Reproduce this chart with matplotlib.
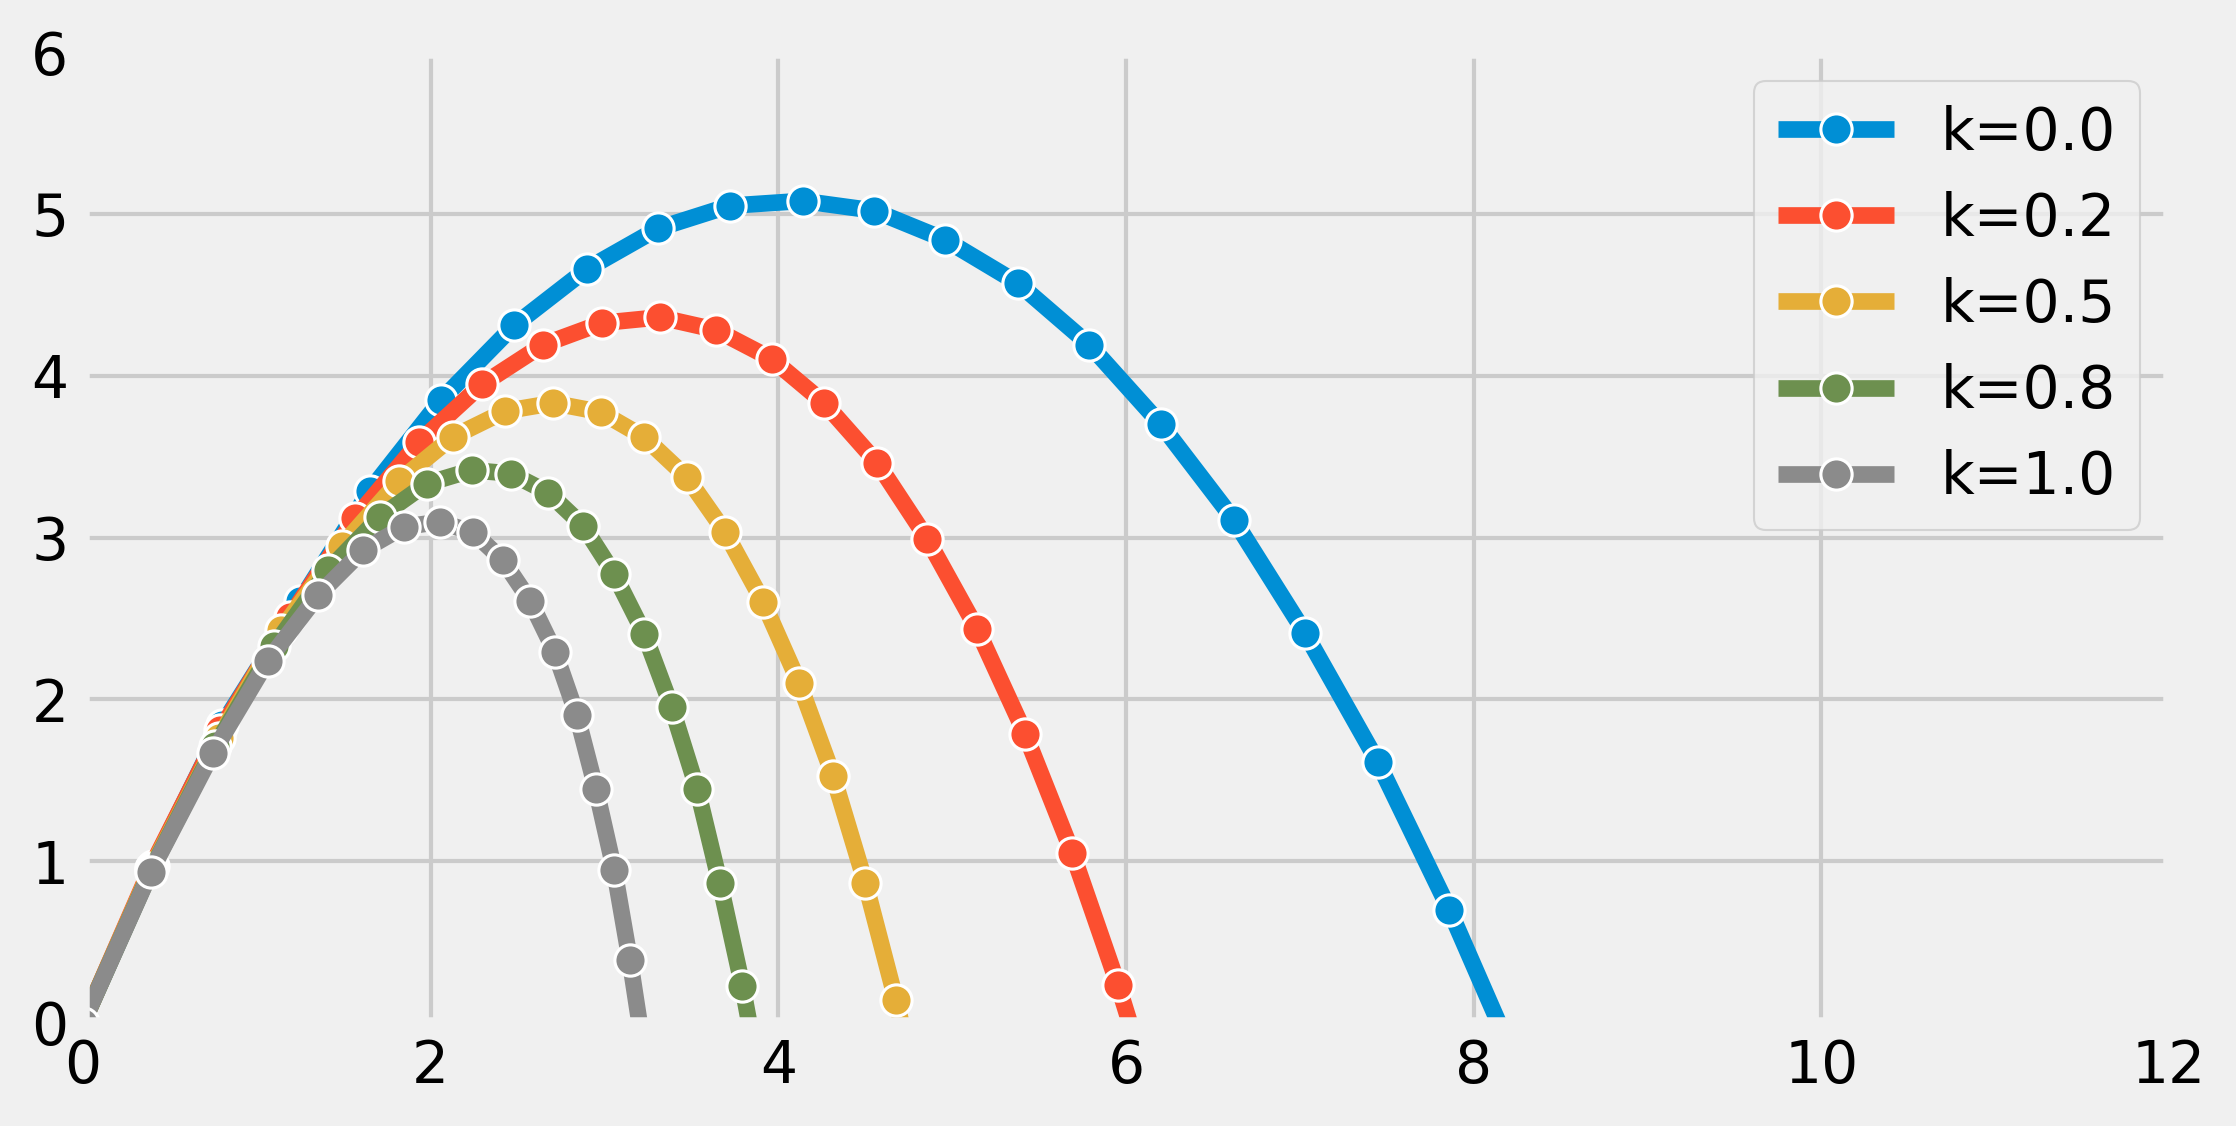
import matplotlib
matplotlib.use('Agg')
import matplotlib.pyplot as plt

# trajectories, one list per drag coefficient
labels = ['k=0.0', 'k=0.2', 'k=0.5', 'k=0.8', 'k=1.0']

x_k00 = [0, 0.40, 0.80, 1.25, 1.65, 2.06, 2.48, 2.90, 3.31, 3.72, 4.14,
         4.55, 4.96, 5.38, 5.79, 6.20, 6.62, 7.03, 7.45, 7.86, 8.27]
y_k00 = [0, 0.97, 1.84, 2.61, 3.29, 3.85, 4.31, 4.66, 4.91, 5.05, 5.08,
         5.02, 4.84, 4.57, 4.19, 3.70, 3.11, 2.41, 1.61, 0.70, -0.31]

x_k02 = [0, 0.39, 0.79, 1.19, 1.565, 1.933, 2.295, 2.648, 2.987, 3.319,
         3.641, 3.961, 4.264, 4.569, 4.857, 5.144, 5.420, 5.691, 5.955, 6.215]
y_k02 = [0, 0.96, 1.81, 2.51, 3.118, 3.590, 3.946, 4.192, 4.326, 4.361,
         4.283, 4.104, 3.831, 3.461, 2.990, 2.433, 1.786, 1.052, 0.232, -0.67]

x_k05 = [0, 0.39, 0.78, 1.14, 1.488, 1.818, 2.126, 2.429, 2.705, 2.978,
         3.227, 3.472, 3.693, 3.913, 4.120, 4.316, 4.500, 4.676, 4.85]
y_k05 = [0, 0.95, 1.76, 2.43, 2.949, 3.350, 3.621, 3.781, 3.831, 3.775,
         3.621, 3.374, 3.035, 2.601, 2.100, 1.525, 0.867, 0.142, -0.64]

x_k08 = [0, 0.39, 0.76, 1.10, 1.411, 1.708, 1.977, 2.236, 2.462, 2.675,
         2.878, 3.056, 3.229, 3.386, 3.534, 3.664, 3.793, 3.91]
y_k08 = [0, 0.94, 1.71, 2.33, 2.799, 3.128, 3.333, 3.416, 3.395, 3.278,
         3.072, 2.773, 2.404, 1.952, 1.443, 0.863, 0.230, -0.45]

x_k10 = [0, 0.389, 0.746, 1.062, 1.354, 1.612, 1.846, 2.053, 2.245, 2.414,
         2.571, 2.715, 2.840, 2.950, 3.056, 3.146, 3.23]
y_k10 = [0, 0.933, 1.669, 2.238, 2.645, 2.922, 3.066, 3.097, 3.031, 2.861,
         2.61, 2.292, 1.905, 1.449, 0.945, 0.388, -0.20]

xs = [x_k00, x_k02, x_k05, x_k08, x_k10]
ys = [y_k00, y_k02, y_k05, y_k08, y_k10]

plt.style.use('fivethirtyeight')
plt.rcParams['font.family'] = ['DejaVu Sans']

fig = plt.figure(figsize=(2236 / 300, 1126 / 300), dpi=300)
ax = fig.add_axes([83 / 2236, 1 - 1023 / 1126, (2169 - 83) / 2236, (1023 - 52) / 1126])

for x, y, lab in zip(xs, ys, labels):
    ax.plot(x, y, marker='o', markersize=7.5, markeredgecolor='white',
            markeredgewidth=0.75, linewidth=4, label=lab)

ax.set_xlim(0, 12)
ax.set_ylim(0, 6)
ax.legend(loc='upper right')

fig.savefig('out.png', dpi=300)
